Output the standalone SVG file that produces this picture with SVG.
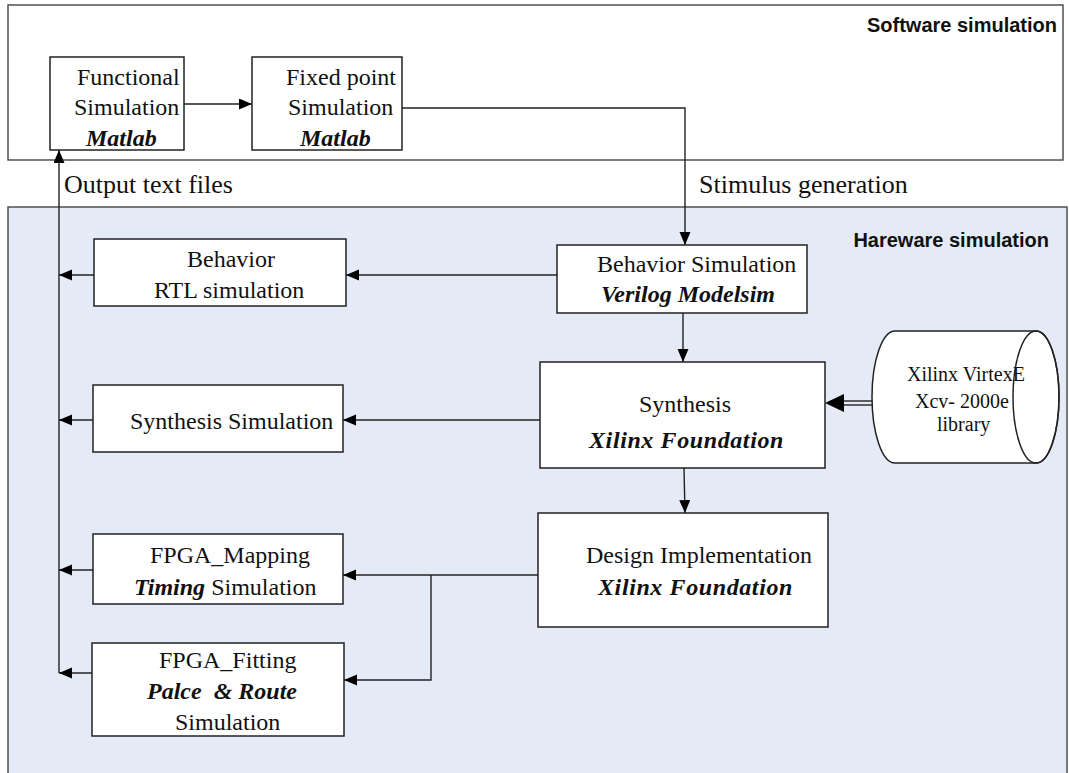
<svg xmlns="http://www.w3.org/2000/svg" width="1069" height="773" viewBox="0 0 1069 773">
  <defs>
    <marker id="arrow" markerUnits="userSpaceOnUse" markerWidth="14" markerHeight="12" refX="13" refY="5.5" orient="auto">
      <path d="M0,0 L13,5.5 L0,11 z" fill="#000"/>
    </marker>
    <style>
      .panel { stroke: #444; stroke-width: 1.4; }
      .box { fill: #fff; stroke: #222; stroke-width: 1.5; }
      .wire { fill: none; stroke: #222; stroke-width: 1.4; }
      .t { font-family: "Liberation Serif", "Times New Roman", serif; font-size: 24px; fill: #111; }
      .bi { font-weight: bold; font-style: italic; }
      .lbl { font-family: "Liberation Serif", "Times New Roman", serif; font-size: 26px; fill: #111; }
      .hdr { font-family: "Liberation Sans", Arial, sans-serif; font-size: 20px; font-weight: bold; fill: #111; text-anchor: end; }
      .cyl { font-family: "Liberation Serif", "Times New Roman", serif; font-size: 20px; fill: #111; }
    </style>
  </defs>

  <rect width="1069" height="773" fill="#fff"/>

  <!-- panels -->
  <g id="software-panel">
    <rect class="panel" x="8" y="5" width="1055" height="155" fill="#fff"/>
    <text class="hdr" x="1057" y="32">Software simulation</text>
  </g>
  <g id="hardware-panel">
    <rect class="panel" x="8" y="207" width="1059" height="570" fill="#E4EBF6"/>
    <text class="hdr" x="1049" y="247">Hareware simulation</text>
  </g>

  <!-- connectors -->
  <g id="connectors">
    <line class="wire" x1="184" y1="104" x2="252" y2="104" marker-end="url(#arrow)"/>
    <polyline class="wire" points="402,108 685,108 685,245" marker-end="url(#arrow)"/>
    <line class="wire" x1="557" y1="275" x2="346" y2="275" marker-end="url(#arrow)"/>
    <line class="wire" x1="683" y1="313" x2="683" y2="362" marker-end="url(#arrow)"/>
    <line class="wire" x1="540" y1="420" x2="343" y2="420" marker-end="url(#arrow)"/>
    <line class="wire" x1="684" y1="468" x2="685" y2="513" marker-end="url(#arrow)"/>
    <line class="wire" x1="538" y1="575" x2="343" y2="575" marker-end="url(#arrow)"/>
    <polyline class="wire" points="431,575 431,680 344,680" marker-end="url(#arrow)"/>
    <!-- library feed: double line -->
    <line class="wire" x1="843" y1="401" x2="872" y2="401"/>
    <line class="wire" x1="843" y1="405" x2="872" y2="405"/>
    <path d="M825,403 L844,394 L844,412 z" fill="#000"/>
    <!-- outputs back to the software side -->
    <line class="wire" x1="59" y1="673" x2="59" y2="150" marker-end="url(#arrow)"/>
    <line class="wire" x1="94" y1="275" x2="59" y2="275" marker-end="url(#arrow)"/>
    <line class="wire" x1="93" y1="420" x2="59" y2="420" marker-end="url(#arrow)"/>
    <line class="wire" x1="93" y1="570" x2="59" y2="570" marker-end="url(#arrow)"/>
    <line class="wire" x1="92" y1="673" x2="59" y2="673" marker-end="url(#arrow)"/>
    <text class="lbl" x="64" y="193">Output text files</text>
    <text class="lbl" x="699" y="193">Stimulus generation</text>
  </g>

  <!-- nodes -->
  <g id="functional-sim">
    <rect class="box" x="50" y="57" width="134" height="93"/>
    <text class="t" x="77" y="85">Functional</text>
    <text class="t" x="74" y="115">Simulation</text>
    <text class="t bi" x="86" y="146">Matlab</text>
  </g>
  <g id="fixed-point-sim">
    <rect class="box" x="252" y="57" width="150" height="93"/>
    <text class="t" x="286" y="85">Fixed point</text>
    <text class="t" x="288" y="115">Simulation</text>
    <text class="t bi" x="300" y="146">Matlab</text>
  </g>
  <g id="behavior-rtl">
    <rect class="box" x="94" y="239" width="252" height="67"/>
    <text class="t" x="187" y="267">Behavior</text>
    <text class="t" x="154" y="298">RTL simulation</text>
  </g>
  <g id="behavior-sim">
    <rect class="box" x="557" y="245" width="250" height="68"/>
    <text class="t" x="597" y="272">Behavior Simulation</text>
    <text class="t bi" x="601" y="302">Verilog Modelsim</text>
  </g>
  <g id="synthesis">
    <rect class="box" x="540" y="362" width="285" height="106"/>
    <text class="t" x="685" y="412" text-anchor="middle">Synthesis</text>
    <text class="t bi" x="589" y="448" letter-spacing="0.6">Xilinx Foundation</text>
  </g>
  <g id="synthesis-sim">
    <rect class="box" x="93" y="385" width="250" height="67"/>
    <text class="t" x="130" y="429">Synthesis Simulation</text>
  </g>
  <g id="library">
    <path d="M895,331 L1036,331 A23,66 0 0 1 1036,463 L895,463 A23,66 0 0 1 895,331 Z" fill="#fff" stroke="#222" stroke-width="1.5"/>
    <ellipse cx="1036" cy="397" rx="23" ry="66" fill="none" stroke="#222" stroke-width="1.5"/>
    <text class="cyl" x="907" y="381">Xilinx VirtexE</text>
    <text class="cyl" x="915" y="408">Xcv- 2000e</text>
    <text class="cyl" x="937" y="431">library</text>
  </g>
  <g id="design-impl">
    <rect class="box" x="538" y="513" width="290" height="114"/>
    <text class="t" x="586" y="563">Design Implementation</text>
    <text class="t bi" x="598" y="595" letter-spacing="0.6">Xilinx Foundation</text>
  </g>
  <g id="fpga-mapping">
    <rect class="box" x="93" y="534" width="250" height="70"/>
    <text class="t" x="150" y="563">FPGA_Mapping</text>
    <text class="t" x="134" y="595"><tspan class="bi">Timing</tspan> Simulation</text>
  </g>
  <g id="fpga-fitting">
    <rect class="box" x="92" y="643" width="252" height="93"/>
    <text class="t" x="159" y="668">FPGA_Fitting</text>
    <text class="t bi" x="147" y="699" xml:space="preserve">Palce  &amp; Route</text>
    <text class="t" x="175" y="730">Simulation</text>
  </g>
</svg>
